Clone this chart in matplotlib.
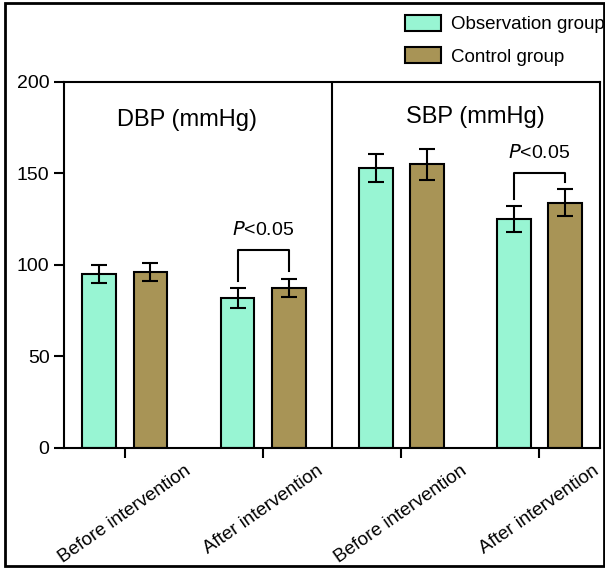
import matplotlib.pyplot as plt
import matplotlib.transforms as mtransforms
import numpy as np
from matplotlib.patches import Rectangle

plt.rcParams['font.family'] = ['Liberation Sans', 'DejaVu Sans']

# data
categories = ["Before intervention", "After intervention", "Before intervention", "After intervention"]
obs_mean = [95, 82, 153, 125]
obs_err = [5, 5.5, 7.5, 7]
ctrl_mean = [96, 87.5, 155, 134]
ctrl_err = [5, 5, 8.5, 7.5]
panel_titles = ["DBP (mmHg)", "SBP (mmHg)"]
sig_pairs = [1, 3]  # groups with P<0.05 bracket
bracket_tops = [108, 150]

obs_color = '#98F5D3'
ctrl_color = '#A89456'

fig = plt.figure(figsize=(6.05, 5.69), dpi=100)
ax = fig.add_axes([0.106, 0.2127, 0.886, 0.6433])

x = np.arange(len(categories))
w = 0.245
off = 0.185

ax.bar(x - off, obs_mean, w, color=obs_color, edgecolor='black', linewidth=1.5,
       label='Observation group', zorder=2)
ax.bar(x + off, ctrl_mean, w, color=ctrl_color, edgecolor='black', linewidth=1.5,
       label='Control group', zorder=2)
ax.errorbar(x - off, obs_mean, yerr=obs_err, fmt='none', ecolor='black',
            elinewidth=1.5, capsize=6, capthick=1.5, zorder=3)
ax.errorbar(x + off, ctrl_mean, yerr=ctrl_err, fmt='none', ecolor='black',
            elinewidth=1.5, capsize=6, capthick=1.5, zorder=3)

# divider between DBP and SBP
ax.axvline(1.5, color='black', linewidth=1.5)

ax.set_xlim(-0.44, 3.44)
ax.set_ylim(0, 200)
ax.set_yticks([0, 50, 100, 150, 200])
ax.set_xticks(x)
ax.set_xticklabels(categories, rotation=35, ha='center', va='top', fontsize=13.5)
shift = mtransforms.ScaledTranslation(-8 / 100, 0, fig.dpi_scale_trans)
for lbl in ax.get_xticklabels():
    lbl.set_transform(lbl.get_transform() + shift)
ax.tick_params(axis='both', direction='out', length=7, width=1.5)
ax.tick_params(axis='y', labelsize=14)
ax.tick_params(axis='x', pad=3)
for s in ax.spines.values():
    s.set_linewidth(1.5)

# panel titles
ax.text(0.45, 179, panel_titles[0], ha='center', va='center', fontsize=17)
ax.text(2.54, 181, panel_titles[1], ha='center', va='center', fontsize=17)

# significance brackets
for i, y_top in zip(sig_pairs, bracket_tops):
    top_o = obs_mean[i] + obs_err[i]
    top_c = ctrl_mean[i] + ctrl_err[i]
    ax.plot([x[i] - off, x[i] - off, x[i] + off, x[i] + off],
            [top_o + 4, y_top, y_top, top_c + 4], color='black', linewidth=1.5)
    ax.text(x[i], y_top + 6, r'$\it{P}$<0.05', ha='center', va='bottom', fontsize=14)

fig.legend(loc='upper right', bbox_to_anchor=(1.028, 1.004), frameon=False,
           fontsize=13.5, handlelength=1.9, handleheight=0.95, labelspacing=0.75,
           handletextpad=0.55)

# outer frame
fig.patches.append(Rectangle((0.008, 0.005), 0.99, 0.99, transform=fig.transFigure,
                             fill=False, edgecolor='black', linewidth=2))

plt.savefig('out.png', dpi=100)
